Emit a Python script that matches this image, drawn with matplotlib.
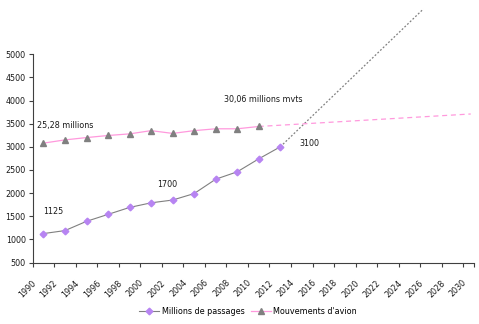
import matplotlib
matplotlib.use("Agg")
import matplotlib.pyplot as plt
from matplotlib.lines import Line2D
from matplotlib.transforms import ScaledTranslation

# -----------------------
# Data
# -----------------------
years = [1991, 1993, 1995, 1997, 1999, 2001, 2003, 2005, 2007, 2009, 2011, 2013]
passagers = [1125, 1190, 1390, 1540, 1690, 1790, 1850, 1990, 2300, 2460, 2740, 3000]

years_mvts = [1991, 1993, 1995, 1997, 1999, 2001, 2003, 2005, 2007, 2009, 2011]
mouvements = [3080, 3150, 3200, 3245, 3280, 3350, 3290, 3350, 3390, 3390, 3440]

# projections
proj_pass_x = [2013, 2026.3]
proj_pass_y = [3000, 5980]
proj_mvts_x = [2011, 2030.7]
proj_mvts_y = [3440, 3710]

xticks = list(range(1990, 2031, 2))
yticks = list(range(500, 5001, 500))

PURPLE = "#b784f2"
GRAY = "#808080"
PINK = "#ff99dd"
AXIS = "#404040"
TXT = "#1a1a1a"
FS = 5.8

plt.rcParams["font.family"] = "DejaVu Sans"

fig = plt.figure(figsize=(4.79, 3.24), dpi=100)
ax = fig.add_axes([32.7 / 479, 1 - 262.5 / 324, (474 - 32.7) / 479, (262.5 - 54.3) / 324])

ax.plot(years, passagers, color=GRAY, lw=0.8, marker="D", ms=3.4,
        mfc=PURPLE, mec=PURPLE, zorder=3)
ax.plot(years_mvts, mouvements, color=PINK, lw=0.9, marker="^", ms=4.4,
        mfc=GRAY, mec=GRAY, zorder=3)
ax.plot(proj_pass_x, proj_pass_y, color=GRAY, lw=0.9, ls=(0, (1.5, 1.5)),
        clip_on=False, zorder=2)
ax.plot(proj_mvts_x, proj_mvts_y, color=PINK, lw=0.9, ls=(0, (4, 3)),
        clip_on=False, zorder=2)

# annotations
ax.text(1990.4, 3470, "25,28 millions", fontsize=FS, color=TXT, va="center")
ax.text(1991.0, 1610, "1125", fontsize=FS, color=TXT, va="center")
ax.text(2001.6, 2180, "1700", fontsize=FS, color=TXT, va="center")
ax.text(2007.75, 4020, "30,06 millions mvts", fontsize=FS, color=TXT, va="center")
ax.text(2014.8, 3070, "3100", fontsize=FS, color=TXT, va="center")

ax.set_xlim(1990, 2031)
ax.set_ylim(500, 5000)
ax.set_xticks(xticks)
ax.set_xticks([2031], minor=True)
ax.set_xticklabels([])
# rotated year labels, drawn as text so they can sit a bit right/below the ticks
shift = ScaledTranslation(0.02, -0.19, fig.dpi_scale_trans)
for y in xticks:
    ax.text(y, 0, str(y), transform=ax.get_xaxis_transform() + shift,
            rotation=45, rotation_mode="anchor", ha="right", va="center",
            fontsize=FS, color=TXT)
ax.set_yticks(yticks)
ax.set_yticklabels([str(v) for v in yticks], fontsize=FS)

for s in ["top", "right"]:
    ax.spines[s].set_visible(False)
for s in ["left", "bottom"]:
    ax.spines[s].set_color(AXIS)
    ax.spines[s].set_linewidth(0.8)
ax.tick_params(axis="both", which="both", direction="out", length=3, width=0.8,
               color=AXIS, labelcolor=TXT, pad=2)

handles = [
    Line2D([], [], color=GRAY, lw=0.8, marker="D", ms=3.4, mfc=PURPLE, mec=PURPLE),
    Line2D([], [], color=PINK, lw=0.9, marker="^", ms=4.4, mfc=GRAY, mec=GRAY),
]
fig.legend(handles, ["Millions de passages", "Mouvements d'avion"],
           loc="center", bbox_to_anchor=(248 / 479, 1 - 311 / 324), ncol=2,
           frameon=False, fontsize=FS, handlelength=2.5, handletextpad=0.3,
           columnspacing=0.8)

fig.savefig("out.png", dpi=100)
